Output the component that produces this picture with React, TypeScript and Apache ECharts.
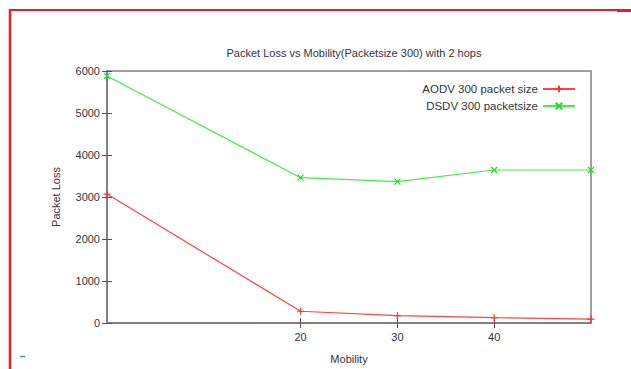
import React, { useEffect, useRef } from "react";
import * as echarts from "echarts";

const mobility = [0, 20, 30, 40, 50];
const aodvLoss = [3070, 280, 175, 127, 92];
const dsdvLoss = [5880, 3460, 3365, 3643, 3643];
const xTickValues = [20, 30, 40];
const seriesNames = ["AODV 300 packet size", "DSDV 300 packetsize"];

export default function App() {
  const ref = useRef<HTMLDivElement>(null);
  useEffect(() => {
    const chart = echarts.init(ref.current!, null, { renderer: "svg" });
    const font = "Liberation Sans";
    const frame = "#808080";
    const txt = "#333340";
    const plus = "path://M0,5L10,5M5,0L5,10";
    const cross = "path://M0,0L10,10M10,0L0,10";
    chart.setOption({
      animation: false,
      backgroundColor: "#ffffff",
      title: {
        text: "Packet Loss vs Mobility(Packetsize 300) with 2 hops",
        left: 349,
        top: 42,
        textAlign: "center",
        textStyle: { fontFamily: font, fontSize: 11, fontWeight: "normal", color: txt },
      },
      legend: {
        orient: "vertical",
        right: 50,
        top: 78,
        align: "right",
        itemWidth: 32,
        itemHeight: 8,
        itemGap: 5,
        textStyle: { fontFamily: font, fontSize: 11.5, color: txt },
        data: seriesNames,
      },
      grid: {
        left: 107,
        top: 71,
        right: 40,
        bottom: 46,
        outerBoundsMode: "none",
        containLabel: false,
        show: true,
        borderColor: frame,
        borderWidth: 1.5,
      },
      xAxis: [
        {
          type: "value",
          min: 0,
          max: 50,
          interval: 10,
          name: "Mobility",
          nameLocation: "middle",
          nameGap: 30,
          nameTextStyle: { fontFamily: font, fontSize: 11, color: txt },
          axisLine: { show: true, lineStyle: { color: frame, width: 1.5 } },
          axisTick: { show: true, inside: true, length: 5, customValues: xTickValues, lineStyle: { color: "#555" } },
          axisLabel: { customValues: xTickValues, margin: 8, fontFamily: font, fontSize: 11, color: txt },
          splitLine: { show: false },
        },
        {
          type: "value",
          position: "top",
          min: 0,
          max: 50,
          interval: 10,
          axisLine: { show: true, lineStyle: { color: frame, width: 1.5 } },
          axisTick: { show: true, inside: true, length: 5, customValues: xTickValues, lineStyle: { color: "#555" } },
          axisLabel: { show: false },
          splitLine: { show: false },
        },
      ],
      yAxis: [
        {
          type: "value",
          min: 0,
          max: 6000,
          interval: 1000,
          name: "Packet Loss",
          nameLocation: "middle",
          nameGap: 46,
          nameTextStyle: { fontFamily: font, fontSize: 11, color: txt },
          axisLine: { show: true, lineStyle: { color: frame, width: 1.5 } },
          axisTick: { show: true, inside: true, length: 5, lineStyle: { color: "#555" } },
          axisLabel: { margin: 7, fontFamily: font, fontSize: 11, color: txt, formatter: (v: number) => String(v) },
          splitLine: { show: false },
        },
        {
          type: "value",
          position: "right",
          min: 0,
          max: 6000,
          interval: 1000,
          axisLine: { show: true, lineStyle: { color: frame, width: 1.5 } },
          axisTick: { show: true, inside: true, length: 5, lineStyle: { color: "#555" } },
          axisLabel: { show: false },
          splitLine: { show: false },
        },
      ],
      series: [
        {
          name: seriesNames[0],
          type: "line",
          data: mobility.map((m, i) => [m, aodvLoss[i]]),
          symbol: plus,
          symbolSize: 7,
          lineStyle: { color: "#ff4444", width: 1.2 },
          itemStyle: { color: "#ff4444", borderColor: "#ff3333", borderWidth: 1.2 },
        },
        {
          name: seriesNames[1],
          type: "line",
          data: mobility.map((m, i) => [m, dsdvLoss[i]]),
          symbol: cross,
          symbolSize: 6,
          lineStyle: { color: "#44ee44", width: 1.2 },
          itemStyle: { color: "#44ee44", borderColor: "#22dd22", borderWidth: 1.2 },
        },
      ],
      graphic: [
        { type: "line", shape: { x1: 10, y1: 9, x2: 10, y2: 369 }, style: { stroke: "#ee1c24", lineWidth: 2.5 } },
        { type: "line", shape: { x1: 9, y1: 10, x2: 631, y2: 10 }, style: { stroke: "#ee1c24", lineWidth: 2 } },
        { type: "line", shape: { x1: 617, y1: 10.5, x2: 631, y2: 10.5 }, style: { stroke: "#ee1c24", lineWidth: 3 } },
        { type: "line", shape: { x1: 20, y1: 356.5, x2: 25, y2: 356.5 }, style: { stroke: "#1aa89a", lineWidth: 1.5 } },
      ],
    });
    return () => chart.dispose();
  }, []);
  return (
    <div
      ref={ref}
      style={{ position: "absolute", left: 0, top: 0, width: 631, height: 369 }}
    />
  );
}
